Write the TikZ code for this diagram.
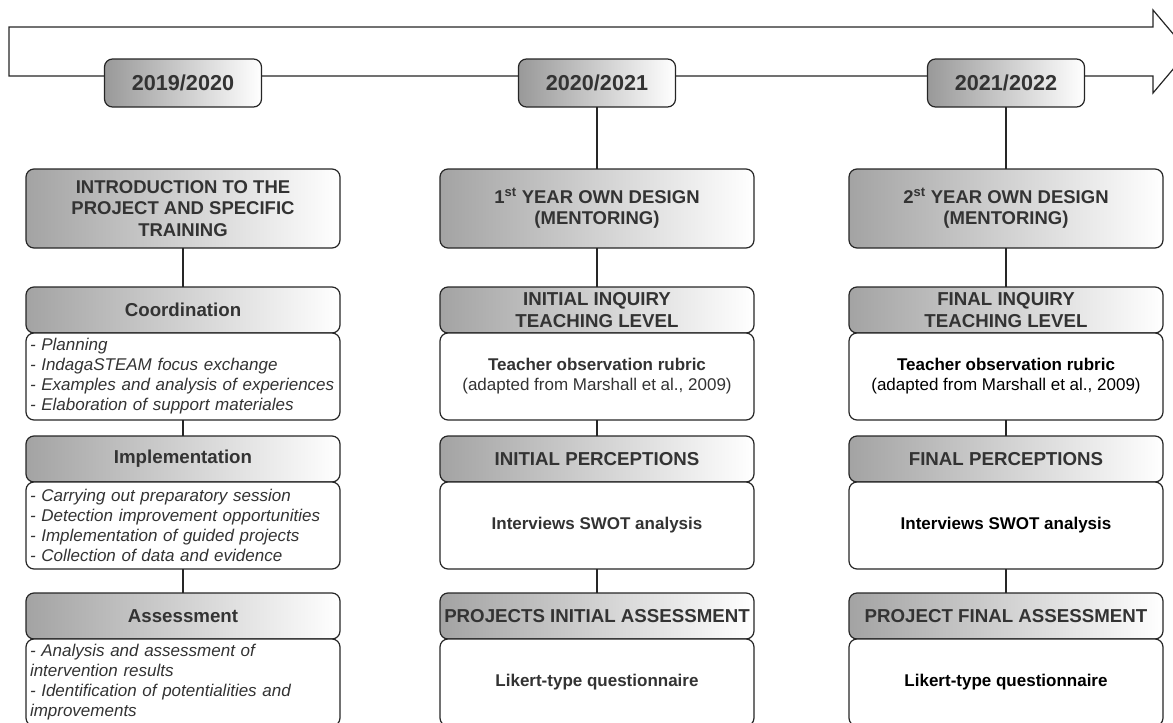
\documentclass[tikz,border=0pt]{standalone}
\usepackage{fontspec}
\setmainfont{Liberation Sans}
\usepackage{xcolor}
\usepackage{tikz}
\usetikzlibrary{positioning}

\definecolor{txtgray}{HTML}{333333}
\definecolor{linegray}{HTML}{262626}

\begin{document}
\begin{tikzpicture}[
    x=1pt, y=1pt,
    every node/.style={rectangle, draw=linegray, line width=1.2pt, rounded corners=8pt, align=center, text=txtgray, inner sep=3pt, outer sep=0pt},
    yearbox/.style={left color=black!40, right color=white, minimum width=157pt, minimum height=48pt, font=\bfseries\fontsize{21.6}{24}\selectfont},
    phasebox/.style={left color=black!36, right color=white, minimum width=314pt, minimum height=79pt, font=\bfseries\fontsize{18.5}{21.7}\selectfont},
    headbox/.style={left color=black!36, right color=white, minimum width=314pt, minimum height=46pt, inner ysep=1pt, font=\bfseries\fontsize{18.7}{21.7}\selectfont},
    itembox/.style={fill=white, minimum width=314pt, minimum height=87pt, font=\fontsize{17}{20}\selectfont},
    listbox/.style={itembox, text width=306pt, align=left, font=\itshape\fontsize{17}{20}\selectfont},
    link/.style={draw=linegray, line width=1.2pt}
]
\useasboundingbox (0,0) rectangle (1173,-723);

\draw[linegray, line width=1.2pt, fill=white] (9,-27) -- (1153,-27) -- (1153,-10) -- (1188,-51.5)
    -- (1153,-93) -- (1153,-76) -- (9,-76) -- cycle;

\node[yearbox] (year1) at (183,-83) {2019/2020};
\node[yearbox] (year2) at (597,-83) {2020/2021};
\node[yearbox] (year3) at (1006,-83) {2021/2022};

\node[phasebox, below=62pt of year1] (intro) {INTRODUCTION TO THE\\PROJECT AND SPECIFIC\\TRAINING};
\node[headbox, below=39pt of intro] (coord) {Coordination};
\node[listbox, below=0pt of coord] (coordlist) {- Planning\\- IndagaSTEAM focus exchange\\- Examples and analysis of experiences\\- Elaboration of support materiales};
\node[headbox, below=16pt of coordlist] (impl) {Implementation};
\node[listbox, below=0pt of impl] (impllist) {- Carrying out preparatory session\\- Detection improvement opportunities\\- Implementation of guided projects\\- Collection of data and evidence};
\node[headbox, below=24pt of impllist] (assess) {Assessment};
\node[listbox, below=0pt of assess] (assesslist) {- Analysis and assessment of\\intervention results\\- Identification of potentialities and\\improvements};

\node[phasebox, below=62pt of year2] (design1) {1\textsuperscript{st} YEAR OWN DESIGN\\(MENTORING)};
\node[headbox, below=39pt of design1] (inquiry1) {INITIAL INQUIRY\\TEACHING LEVEL};
\node[itembox, below=0pt of inquiry1] (rubric1) {\textbf{Teacher observation rubric}\\(adapted from Marshall et al., 2009)};
\node[headbox, below=16pt of rubric1] (percep1) {INITIAL PERCEPTIONS};
\node[itembox, below=0pt of percep1, font=\bfseries\fontsize{17}{20}\selectfont] (swot1) {Interviews SWOT analysis};
\node[headbox, below=24pt of swot1] (projassess1) {PROJECTS INITIAL ASSESSMENT};
\node[itembox, below=0pt of projassess1, font=\bfseries\fontsize{17}{20}\selectfont] (likert1) {Likert-type questionnaire};

\node[phasebox, below=62pt of year3] (design2) {2\textsuperscript{st} YEAR OWN DESIGN\\(MENTORING)};
\node[headbox, below=39pt of design2] (inquiry2) {FINAL INQUIRY\\TEACHING LEVEL};
\node[itembox, below=0pt of inquiry2, text=black] (rubric2) {\textbf{Teacher observation rubric}\\(adapted from Marshall et al., 2009)};
\node[headbox, below=16pt of rubric2] (percep2) {FINAL PERCEPTIONS};
\node[itembox, below=0pt of percep2, text=black, font=\bfseries\fontsize{17}{20}\selectfont] (swot2) {Interviews SWOT analysis};
\node[headbox, below=24pt of swot2] (projassess2) {PROJECT FINAL ASSESSMENT};
\node[itembox, below=0pt of projassess2, text=black, font=\bfseries\fontsize{17}{20}\selectfont] (likert2) {Likert-type questionnaire};

\draw[link] (intro) -- (coord);
\draw[link] (coordlist) -- (impl);
\draw[link] (impllist) -- (assess);

\draw[link] (year2) -- (design1);
\draw[link] (design1) -- (inquiry1);
\draw[link] (rubric1) -- (percep1);
\draw[link] (swot1) -- (projassess1);

\draw[link] (year3) -- (design2);
\draw[link] (design2) -- (inquiry2);
\draw[link] (rubric2) -- (percep2);
\draw[link] (swot2) -- (projassess2);
\end{tikzpicture}
\end{document}
